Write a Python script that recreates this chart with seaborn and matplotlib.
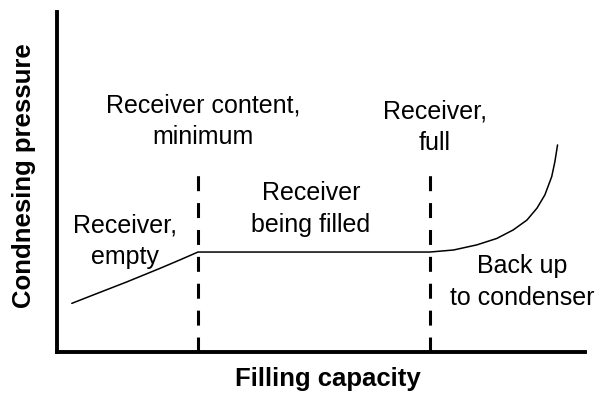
import pandas as pd
import matplotlib
matplotlib.use("Agg")
import matplotlib.pyplot as plt
import seaborn as sns

# ----------------------------
# Data (schematic, axes 0-100)
# ----------------------------
fill_x = [2.8, 6.9, 13.2, 19.5, 23.3, 26.7, 46.0, 70.6,
          75.1, 79.5, 83.3, 86.4, 89.0, 90.9, 92.4, 93.7, 94.3, 94.8]
pressure_y = [14.3, 16.8, 20.6, 24.6, 27.1, 29.4, 29.4, 29.4,
              30.0, 31.5, 33.4, 35.9, 38.8, 42.3, 46.2, 51.6, 56.0, 60.9]
boundary_x = [26.7, 70.6]

region_labels = ["Receiver content,\nminimum", "Receiver,\nempty",
                 "Receiver\nbeing filled", "Receiver,\nfull",
                 "Back up\nto condenser"]
label_x = [27.6, 12.8, 48.1, 71.6, 88.1]
label_y = [68.0, 32.6, 42.0, 66.0, 20.6]

df = pd.DataFrame({"Filling capacity": fill_x, "Condnesing pressure": pressure_y})

# ----------------------------
# Style
# ----------------------------
sns.set_style("white")
plt.rcParams["font.family"] = ["Liberation Sans", "DejaVu Sans"]
plt.rcParams["text.color"] = "black"
plt.rcParams["axes.labelcolor"] = "black"

fig = plt.figure(figsize=(6.01, 3.94), dpi=100)
ax = fig.add_axes([57 / 601, 42 / 394, 528 / 601, 340 / 394])

sns.lineplot(data=df, x="Filling capacity", y="Condnesing pressure",
             sort=False, color="black", linewidth=1.1, ax=ax)

for bx in boundary_x:
    ax.axvline(bx, ymin=0, ymax=0.524, color="black", linewidth=2.2,
               dashes=(4.9, 3.9), clip_on=False)

for txt, tx, ty in zip(region_labels, label_x, label_y):
    ax.text(tx, ty, txt, ha="center", va="center", fontsize=18,
            linespacing=1.4, clip_on=False)

ax.set_xlim(0, 100)
ax.set_ylim(0, 100)
ax.set_xticks([])
ax.set_yticks([])
sns.despine(ax=ax)
for side in ["left", "bottom"]:
    ax.spines[side].set_linewidth(2.8)
    ax.spines[side].set_color("black")

ax.set_xlabel("Filling capacity", fontsize=18.5, fontweight="bold")
ax.set_ylabel("Condnesing pressure", fontsize=18.5, fontweight="bold")
ax.xaxis.set_label_coords(0.513, -0.045)
ax.yaxis.set_label_coords(-0.04, 0.518)

fig.savefig("out.png", dpi=100)
